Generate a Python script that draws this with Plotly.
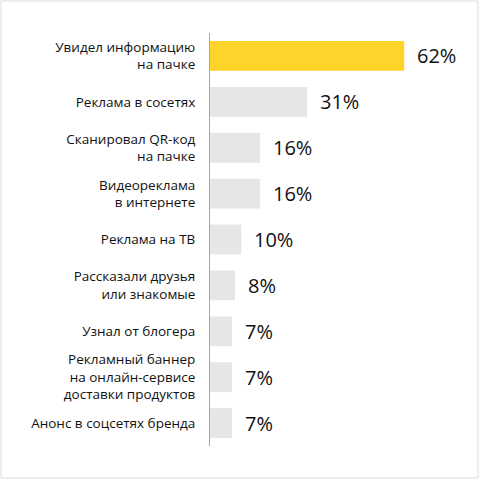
import plotly.graph_objects as go

categories = [
    "Увидел информацию<br>на пачке",
    "Реклама в сосетях",
    "Сканировал QR-код<br>на пачке",
    "Видеореклама<br>в интернете",
    "Реклама на ТВ",
    "Рассказали друзья<br>или знакомые",
    "Узнал от блогера",
    "Рекламный баннер<br>на онлайн-сервисе<br>доставки продуктов",
    "Анонс в соцсетях бренда",
]
values = [62, 31, 16, 16, 10, 8, 7, 7, 7]
labels = [f"{v}%" for v in values]

bar_colors = ["#FED42A"] + ["#E6E6E6"] * (len(values) - 1)

fig = go.Figure()
fig.add_trace(go.Bar(
    x=values,
    y=categories,
    orientation="h",
    marker=dict(color=bar_colors, line=dict(width=0)),
    width=0.65,
    hoverinfo="skip",
))

# value labels sit a bit further from the bar ends than plotly's default
for cat, v, lab in zip(categories, values, labels):
    fig.add_annotation(
        x=v, y=cat, text=lab, showarrow=False,
        xanchor="left", xshift=11,
        font=dict(family="Open Sans", size=20, color="#111111"),
    )

# thin frame round the whole picture
fig.add_shape(
    type="rect", xref="paper", yref="paper",
    x0=(1 - 210) / 260, x1=(478 - 210) / 260,
    y0=(446 - 478) / 413, y1=(446 - 1) / 413,
    line=dict(color="#DDDDDD", width=1),
)

fig.update_layout(
    width=480,
    height=480,
    margin=dict(l=210, r=10, t=33, b=34),
    paper_bgcolor="white",
    plot_bgcolor="white",
    showlegend=False,
    font=dict(family="Open Sans", size=13, color="#1a1a1a"),
    xaxis=dict(range=[0, 83], visible=False, showgrid=False, zeroline=False),
    yaxis=dict(
        autorange="reversed",
        showline=True,
        linecolor="#A8A8A8",
        linewidth=1,
        showgrid=False,
        ticks="",
        ticklabelstandoff=11,
        tickfont=dict(family="Open Sans", size=13.5, color="#111111"),
    ),
)

fig.write_html(
    "out.html",
    config={"displayModeBar": False},
    post_script="document.body.style.margin='0';",
)
